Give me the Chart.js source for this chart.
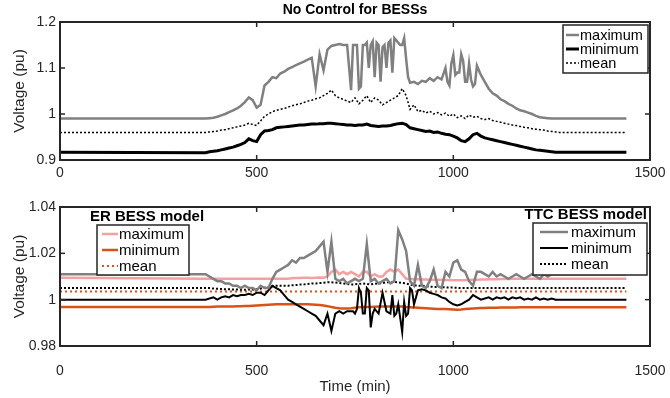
<!DOCTYPE html>
<html>
<head>
<meta charset="utf-8">
<script src="https://cdn.jsdelivr.net/npm/chart.js@4.4.1/dist/chart.umd.min.js"></script>
<style>
  body { margin: 0; background: #fff; }
  #wrap { position: relative; width: 670px; height: 398px; }
  canvas { position: absolute; left: 0; }
</style>
</head>
<body>
<div id="wrap">
  <canvas id="topChart" width="670" height="192" style="top:0"></canvas>
  <canvas id="botChart" width="670" height="206" style="top:192px"></canvas>
</div>
<script>
// time grid (min), shared by the sampled series
const tGrid = [0,
  370,380,390,400,410,420,430,440,450,460,
  470,480,490,500,510,520,530,540,550,560,
  570,580,590,600,610,620,630,640,650,660,
  670,680,690,700,710,720,730,740,750,760,
  770,780,790,800,810,820,830,840,850,860,
  870,880,890,900,910,920,930,940,950,960,
  970,980,990,1000,1010,1020,1030,1040,1050,1060,
  1070,1080,1090,1100,1110,1120,1130,1140,1150,1160,
  1170,1180,1190,1200,1210,1220,1230,1240,1250,1260,
  1270,1280,
  1440];

// ---- No Control for BESSs ----
const topMax = [0.990,
  0.990,0.991,0.992,0.994,0.997,1.000,1.004,1.008,1.012,1.018,
  1.026,1.036,1.030,1.014,1.020,1.062,1.070,1.080,1.078,1.088,
  1.092,1.098,1.102,1.106,1.110,1.114,1.118,1.122,1.060,1.130,
  1.095,1.140,1.148,1.150,1.152,1.150,1.150,1.052,1.150,1.055,
  1.150,1.155,1.150,1.080,1.150,1.145,1.100,1.160,1.165,1.155,
  1.150,1.120,1.068,1.070,1.065,1.072,1.070,1.078,1.072,1.080,
  1.075,1.100,1.062,1.128,1.090,1.130,1.070,1.110,1.060,1.105,
  1.085,1.070,1.055,1.045,1.040,1.032,1.028,1.022,1.018,1.012,
  1.008,1.006,1.003,1.000,0.996,0.993,0.992,0.991,0.990,0.990,
  0.990,0.990,
  0.990];
// extra samples where the maximum flickers fast
const topMaxExtraT = [745,755,765,775,785,795,805,815,825,835,845,855,865,875,885,985,995,1005,1015,1025,1035,1045,1055];
const topMaxExtra  = [1.150,1.150,1.060,1.150,1.100,1.158,1.155,1.070,1.150,1.155,1.090,1.160,1.150,1.165,1.080,1.070,1.110,1.085,1.090,1.115,1.070,1.075,1.065];
const topMin = [0.917,
  0.916,0.918,0.919,0.920,0.922,0.924,0.926,0.928,0.931,0.934,
  0.938,0.946,0.942,0.940,0.955,0.963,0.964,0.966,0.970,0.971,
  0.972,0.973,0.974,0.975,0.976,0.976,0.977,0.978,0.978,0.979,
  0.979,0.980,0.980,0.979,0.978,0.977,0.976,0.976,0.975,0.976,
  0.976,0.978,0.975,0.974,0.973,0.974,0.974,0.975,0.977,0.979,
  0.980,0.977,0.970,0.968,0.966,0.964,0.962,0.963,0.960,0.961,
  0.958,0.956,0.955,0.952,0.948,0.942,0.940,0.946,0.955,0.958,
  0.952,0.948,0.946,0.944,0.942,0.940,0.938,0.936,0.934,0.932,
  0.930,0.928,0.926,0.924,0.922,0.921,0.920,0.919,0.918,0.917,
  0.917,0.917,
  0.917];
const topMean = [0.960,
  0.960,0.961,0.962,0.963,0.965,0.966,0.968,0.970,0.972,0.974,
  0.976,0.980,0.977,0.975,0.985,0.995,1.000,1.005,1.008,1.010,
  1.012,1.015,1.018,1.020,1.022,1.025,1.028,1.030,1.033,1.035,
  1.040,1.045,1.052,1.040,1.035,1.032,1.028,1.025,1.035,1.022,
  1.030,1.040,1.025,1.035,1.030,1.020,1.025,1.030,1.035,1.040,
  1.055,1.040,1.010,1.020,1.005,1.008,1.002,1.006,1.000,1.003,
  0.998,1.002,0.995,1.000,0.992,0.996,0.990,0.998,0.993,0.995,
  0.990,0.988,0.990,0.986,0.984,0.982,0.980,0.978,0.976,0.975,
  0.973,0.971,0.970,0.968,0.967,0.966,0.965,0.963,0.962,0.961,
  0.960,0.960,
  0.960];

// ---- ER BESS model ----
const erMax = [1.0095,
  1.009,1.009,1.009,1.009,1.009,1.009,1.009,1.009,1.009,1.009,
  1.009,1.009,1.009,1.009,1.009,1.009,1.009,1.009,1.009,1.009,
  1.009,1.009,1.0092,1.0093,1.0094,1.0095,1.0095,1.0094,1.0095,1.0096,
  1.0095,1.010,1.012,1.013,1.011,1.012,1.011,1.012,1.011,1.010,
  1.012,1.012,1.010,1.011,1.010,1.010,1.012,1.013,1.012,1.013,
  1.011,1.009,1.009,1.0088,1.0088,1.0087,1.0087,1.0086,1.0086,1.0086,
  1.0086,1.0085,1.0085,1.0084,1.0084,1.0084,1.0084,1.0085,1.0086,1.0086,
  1.0087,1.0087,1.0088,1.0088,1.0088,1.0089,1.0089,1.0089,1.009,1.009,
  1.009,1.009,1.009,1.009,1.009,1.009,1.009,1.009,1.009,1.009,
  1.009,1.009,
  1.009];
const erMin = [0.9968,
  0.9968,0.9968,0.9969,0.997,0.997,0.997,0.9971,0.9971,0.9972,0.9972,
  0.9973,0.9973,0.9974,0.9975,0.9976,0.9977,0.9978,0.9979,0.998,0.998,
  0.998,0.998,0.998,0.998,0.998,0.998,0.998,0.9979,0.9978,0.9977,
  0.9975,0.9972,0.9968,0.9965,0.9963,0.9962,0.9962,0.9963,0.9965,0.9967,
  0.9968,0.9968,0.9968,0.9969,0.997,0.997,0.997,0.997,0.997,0.997,
  0.997,0.9968,0.9967,0.9966,0.9965,0.9964,0.9963,0.9962,0.9961,0.996,
  0.996,0.996,0.9959,0.9958,0.9957,0.9958,0.996,0.9961,0.9962,0.9963,
  0.9964,0.9964,0.9965,0.9965,0.9965,0.9966,0.9966,0.9966,0.9966,0.9966,
  0.9967,0.9967,0.9967,0.9967,0.9967,0.9967,0.9967,0.9967,0.9967,0.9967,
  0.9967,0.9967,
  0.9967];
const erMeanT = [0, 1440];
const erMean = [1.0035, 1.0035];

// ---- TTC BESS model ----
const ttcMax = [1.011,
  1.011,1.010,1.009,1.008,1.008,1.007,1.007,1.006,1.006,1.005,
  1.006,1.005,1.005,1.004,1.006,1.005,1.005,1.009,1.012,1.013,
  1.014,1.015,1.017,1.016,1.018,1.018,1.019,1.020,1.021,1.023,
  1.025,1.012,1.025,1.009,1.008,1.009,1.007,1.008,1.009,1.008,
  1.009,1.024,1.008,1.009,1.007,1.008,1.009,1.007,1.008,1.030,
  1.026,1.021,1.008,1.006,1.015,1.006,1.005,1.008,1.013,1.006,
  1.005,1.012,1.010,1.016,1.017,1.013,1.012,1.008,1.006,1.012,
  1.012,1.011,1.010,1.012,1.010,1.011,1.010,1.009,1.010,1.011,
  1.010,1.009,1.010,1.011,1.010,1.009,1.011,1.010,1.011,1.011,
  1.011,1.011,
  1.011];
const ttcMin = [1.000,
  1.000,1.0005,1.001,1.000,1.001,1.0015,1.001,1.002,1.0015,1.002,
  1.002,1.0025,1.002,1.003,1.003,1.002,1.004,1.006,1.005,1.004,
  1.002,1.000,0.999,0.998,0.997,0.996,0.995,0.994,0.993,0.991,
  0.989,0.994,0.9865,0.994,0.995,0.994,0.995,0.995,0.994,1.005,
  0.994,1.005,0.988,0.996,0.994,1.003,0.995,0.994,0.993,0.998,
  0.986,0.993,1.005,0.998,1.004,1.0045,1.004,1.003,1.0025,1.002,
  1.001,1.0005,0.999,0.998,0.9975,0.998,0.999,1.000,1.002,1.001,
  1.000,1.0005,1.001,1.000,1.001,1.0005,1.001,1.000,1.001,1.0005,
  1.001,1.000,1.0005,1.000,1.001,1.000,1.0005,1.000,1.0005,1.000,
  1.000,1.000,
  1.000];
const ttcMinExtraT = [745,755,765,775,785,795,845,855,865,875,885,895];
const ttcMinExtra  = [0.995,0.996,1.003,0.994,1.004,0.994,1.002,0.994,0.992,0.999,0.994,1.004];
const ttcMean = [1.005,
  1.005,1.005,1.0048,1.0047,1.0046,1.0045,1.0045,1.0044,1.0044,1.0043,
  1.0043,1.0044,1.0044,1.0045,1.0048,1.0052,1.0055,1.0058,1.006,1.006,
  1.006,1.006,1.0062,1.0063,1.0065,1.0066,1.0068,1.007,1.007,1.0072,
  1.0073,1.0075,1.0075,1.0074,1.0072,1.007,1.0068,1.0065,1.0066,1.0068,
  1.007,1.0068,1.0066,1.0068,1.007,1.0072,1.0075,1.0075,1.0076,1.0075,
  1.0072,1.007,1.0065,1.0062,1.006,1.006,1.0058,1.0056,1.0055,1.0055,
  1.0054,1.0053,1.0052,1.0052,1.0051,1.005,1.005,1.005,1.0051,1.005,
  1.005,1.005,1.005,1.005,1.005,1.005,1.005,1.005,1.005,1.005,
  1.005,1.005,1.005,1.005,1.005,1.005,1.005,1.005,1.005,1.005,
  1.005,1.005,
  1.005];

// ticks
const xTicks = [0, 500, 1000, 1500];
const topYTicks = [0.9, 1.0, 1.1, 1.2];
const botYTicks = [0.98, 1.0, 1.02, 1.04];

const FONT = 'Liberation Sans, Arial, Helvetica, sans-serif';
const INK = '#262626';

function pts(t, v, et, ev) {
  const p = v.map((y, i) => ({ x: t[i], y: y }));
  if (et) et.forEach((x, i) => p.push({ x: x, y: ev[i] }));
  return p.sort((a, b) => a.x - b.x);
}

function line(ctx, x1, y1, x2, y2) {
  ctx.beginPath(); ctx.moveTo(x1, y1); ctx.lineTo(x2, y2); ctx.stroke();
}

// box border + inward ticks on all four sides, like matlab axes
const framePlugin = {
  id: 'frame',
  afterDatasetsDraw(chart) {
    const { ctx, chartArea: a, scales } = chart;
    ctx.save();
    ctx.strokeStyle = INK;
    ctx.lineWidth = 1.5;
    scales.x.ticks.forEach(t => {
      const px = scales.x.getPixelForValue(t.value);
      if (px <= a.left + 1 || px >= a.right - 1) return;
      line(ctx, px, a.bottom, px, a.bottom - 5);
      line(ctx, px, a.top, px, a.top + 5);
    });
    scales.y.ticks.forEach(t => {
      const py = scales.y.getPixelForValue(t.value);
      if (py <= a.top + 1 || py >= a.bottom - 1) return;
      line(ctx, a.left, py, a.left + 5, py);
      line(ctx, a.right, py, a.right - 5, py);
    });
    ctx.lineWidth = 2;
    ctx.strokeRect(a.left, a.top, a.right - a.left, a.bottom - a.top);
    ctx.restore();
  }
};

// boxed legends and heading texts
const boxLegendPlugin = {
  id: 'boxLegend',
  afterDraw(chart, args, opts) {
    const { ctx } = chart;
    ctx.save();
    (opts.texts || []).forEach(tx => {
      ctx.font = tx.font;
      ctx.fillStyle = '#000';
      ctx.textAlign = tx.align || 'center';
      ctx.textBaseline = 'middle';
      ctx.fillText(tx.text, tx.x, tx.y);
    });
    (opts.boxes || []).forEach(b => {
      ctx.fillStyle = '#fff';
      ctx.fillRect(b.x, b.y, b.w, b.h);
      ctx.strokeStyle = INK;
      ctx.lineWidth = 1.5;
      ctx.strokeRect(b.x, b.y, b.w, b.h);
      ctx.font = b.font;
      ctx.textAlign = 'left';
      ctx.textBaseline = 'middle';
      b.items.forEach((idx, k) => {
        const ds = chart.data.datasets[idx];
        const y = b.y + b.rowTop + k * b.rowGap;
        ctx.strokeStyle = ds.borderColor;
        ctx.lineWidth = ds.borderWidth;
        ctx.setLineDash(ds.borderDash || []);
        line(ctx, b.x + b.lineX0, y, b.x + b.lineX1, y);
        ctx.setLineDash([]);
        ctx.fillStyle = '#000';
        ctx.fillText(ds.label, b.x + b.textX, y + 0.5);
      });
    });
    ctx.restore();
  }
};

function axes(yMin, yMax, yTicks, xTitle, xHeight, xPad) {
  return {
    x: {
      type: 'linear', min: 0, max: 1500,
      afterBuildTicks: s => { s.ticks = xTicks.map(v => ({ value: v })); },
      afterFit: s => { s.height = xHeight; s.paddingLeft = 0; s.paddingRight = 0; },
      grid: { display: false, drawTicks: false },
      border: { display: false },
      ticks: { color: INK, padding: xPad, maxRotation: 0, font: { family: FONT, size: 14 }, callback: v => String(v) },
      title: xTitle ? { display: true, text: xTitle, color: INK, padding: { top: 0, bottom: 2 }, font: { family: FONT, size: 15 } } : { display: false }
    },
    y: {
      min: yMin, max: yMax,
      afterBuildTicks: s => { s.ticks = yTicks.map(v => ({ value: v })); },
      afterFit: s => { s.width = 60; },
      grid: { display: false, drawTicks: false },
      border: { display: false },
      ticks: { color: INK, padding: 4, font: { family: FONT, size: 14 }, callback: v => String(+v.toFixed(2)) },
      title: { display: true, text: 'Voltage (pu)', color: INK, padding: { top: 10, bottom: 0 }, font: { family: FONT, size: 15.5 } }
    }
  };
}

const common = {
  responsive: false,
  animation: false,
  devicePixelRatio: 1,
  elements: { point: { radius: 0 }, line: { tension: 0 } },
  plugins: { legend: { display: false }, tooltip: { enabled: false } }
};

// top: No Control for BESSs
new Chart(document.getElementById('topChart'), {
  type: 'line',
  data: {
    datasets: [
      { label: 'maximum', data: pts(tGrid, topMax, topMaxExtraT, topMaxExtra), borderColor: '#808080', borderWidth: 2.5 },
      { label: 'minimum', data: pts(tGrid, topMin), borderColor: '#000000', borderWidth: 3 },
      { label: 'mean', data: pts(tGrid, topMean), borderColor: '#000000', borderWidth: 1.5, borderDash: [2, 2] }
    ]
  },
  options: {
    ...common,
    layout: { padding: { top: 22, right: 20, left: 0, bottom: 0 } },
    scales: axes(0.9, 1.2, topYTicks, null, 32, 5),
    plugins: {
      ...common.plugins,
      boxLegend: {
        texts: [{ text: 'No Control for BESSs', x: 355, y: 10, font: 'bold 14px ' + FONT }],
        boxes: [{ x: 563, y: 25, w: 85, h: 48, font: '14.5px ' + FONT,
                  rowTop: 10, rowGap: 14, lineX0: 3, lineX1: 16, textX: 17, items: [0, 1, 2] }]
      }
    }
  },
  plugins: [framePlugin, boxLegendPlugin]
});

// bottom: ER vs TTC BESS model
new Chart(document.getElementById('botChart'), {
  type: 'line',
  data: {
    datasets: [
      { label: 'maximum', data: pts(tGrid, erMax), borderColor: '#f5a0a0', borderWidth: 2.5, order: 2 },
      { label: 'minimum', data: pts(tGrid, erMin), borderColor: '#d95319', borderWidth: 2.5, order: 2 },
      { label: 'mean', data: pts(erMeanT, erMean), borderColor: '#d95319', borderWidth: 2, borderDash: [2, 3], order: 2 },
      { label: 'maximum', data: pts(tGrid, ttcMax), borderColor: '#808080', borderWidth: 2.5, order: 1 },
      { label: 'minimum', data: pts(tGrid, ttcMin, ttcMinExtraT, ttcMinExtra), borderColor: '#000000', borderWidth: 2, order: 1 },
      { label: 'mean', data: pts(tGrid, ttcMean), borderColor: '#000000', borderWidth: 2, borderDash: [2, 2], order: 1 }
    ]
  },
  options: {
    ...common,
    layout: { padding: { top: 15, right: 20, left: 0, bottom: 0 } },
    scales: axes(0.98, 1.04, botYTicks, 'Time (min)', 52, 17),
    plugins: {
      ...common.plugins,
      boxLegend: {
        texts: [
          { text: 'ER BESS model', x: 147, y: 25, font: 'bold 15px ' + FONT },
          { text: 'TTC BESS model', x: 647, y: 23, align: 'right', font: 'bold 15px ' + FONT }
        ],
        boxes: [
          { x: 97, y: 33, w: 92, h: 50, font: '15px ' + FONT,
            rowTop: 9, rowGap: 16, lineX0: 5, lineX1: 21, textX: 22, items: [0, 1, 2] },
          { x: 533, y: 31, w: 114, h: 52, font: '15px ' + FONT,
            rowTop: 9, rowGap: 16, lineX0: 7, lineX1: 35, textX: 38, items: [3, 4, 5] }
        ]
      }
    }
  },
  plugins: [framePlugin, boxLegendPlugin]
});
</script>
</body>
</html>
